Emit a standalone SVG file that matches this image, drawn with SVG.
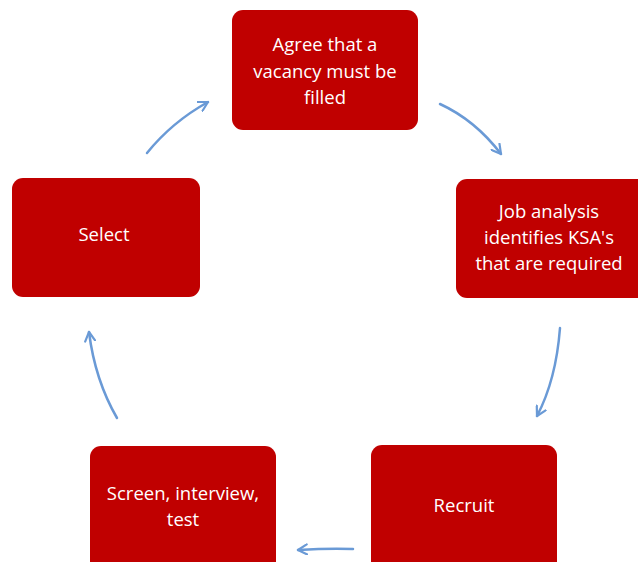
<svg xmlns="http://www.w3.org/2000/svg" width="638" height="562" viewBox="0 0 638 562">
<defs>
<style>
.box{fill:#C00000;}
.lbl{font-family:"Open Sans","Noto Sans",sans-serif;font-size:18.5px;fill:#ffffff;text-anchor:middle;}
.arr{fill:none;stroke:#6A9AD6;stroke-width:2.5;stroke-linecap:round;marker-end:url(#head);}
</style>
<marker id="head" viewBox="0 0 12 12" refX="10" refY="6" markerWidth="12" markerHeight="12" markerUnits="userSpaceOnUse" orient="auto">
<path d="M1,1 L10,6 L1,11" fill="none" stroke="#6A9AD6" stroke-width="2.2" stroke-linecap="round" stroke-linejoin="round"/>
</marker>
</defs>
<rect width="638" height="562" fill="#ffffff"/>
<g id="connectors">
<path class="arr" d="M147,153 Q172,122 208,102"/>
<path class="arr" d="M440,104 Q475,120 501,154"/>
<path class="arr" d="M560,328 Q556,380 537,416"/>
<path class="arr" d="M353,549 Q330,548 298,550"/>
<path class="arr" d="M117,418 Q95,380 89,332"/>
</g>
<g id="n1">
<rect class="box" x="232" y="10" width="186" height="120" rx="11"/>
<text class="lbl" x="325" y="51">Agree that a</text>
<text class="lbl" x="325" y="78">vacancy must be</text>
<text class="lbl" x="325" y="104">filled</text>
</g>
<g id="n2">
<rect class="box" x="456" y="179" width="192" height="119" rx="11"/>
<text class="lbl" x="549" y="218">Job analysis</text>
<text class="lbl" x="549" y="244">identifies KSA's</text>
<text class="lbl" x="549" y="270">that are required</text>
</g>
<g id="n3">
<rect class="box" x="371" y="445" width="186" height="130" rx="11"/>
<text class="lbl" x="464" y="512">Recruit</text>
</g>
<g id="n4">
<rect class="box" x="90" y="446" width="186" height="130" rx="11"/>
<text class="lbl" x="183" y="500">Screen, interview,</text>
<text class="lbl" x="183" y="526">test</text>
</g>
<g id="n5">
<rect class="box" x="12" y="178" width="188" height="119" rx="11"/>
<text class="lbl" x="104" y="241">Select</text>
</g>
</svg>
